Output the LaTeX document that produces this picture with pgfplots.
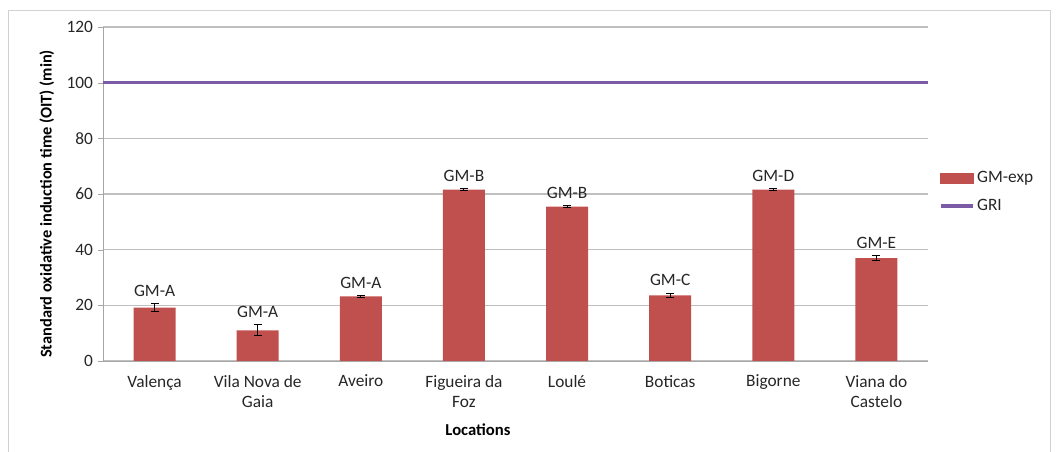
\documentclass[border=0pt]{standalone}
\usepackage{fontspec}
\setmainfont{Carlito}
\usepackage{pgfplots}
\pgfplotsset{compat=1.18}
\usepackage{pgfplotstable}

\definecolor{barred}{HTML}{C0504D}
\definecolor{gripurple}{HTML}{7B5BA6}
\definecolor{gridgray}{HTML}{BFBFBF}
\definecolor{axgray}{HTML}{A6A6A6}
\definecolor{txt}{HTML}{262626}

% OIT per location: value, error, group label
\pgfplotstableread{
x y err lab
0 19.2 1.4 GM-A
1 11.0 2.0 GM-A
2 23.2 0.3 GM-A
3 61.6 0.3 GM-B
4 55.5 0.2 GM-B
5 23.6 0.8 GM-C
6 61.6 0.3 GM-D
7 37.0 0.8 GM-E
}\oit

\pgfplotstableread{
x y
-0.5 100
7.5 100
}\gri

\begin{document}
\begin{tikzpicture}
\path[use as bounding box] (-77.25pt,-68.25pt) rectangle (714.75pt,270.75pt);
\draw[gridgray!70] (-71.25pt,-75pt) -- (-71.25pt,263.25pt) -- (710.25pt,263.25pt) -- (710.25pt,-75pt);
\begin{axis}[
    at={(0,0)}, anchor=south west,
    scale only axis,
    width=618.75pt, height=250.5pt,
    xmin=-0.5, xmax=7.5,
    ymin=0, ymax=120,
    ytick={0,20,...,120},
    xtick={0,...,7},
    xticklabels={Valença, Vila Nova de\\Gaia, Aveiro, Figueira da\\Foz, Loulé, Boticas, Bigorne, Viana do\\Castelo},
    axis lines*=left,
    axis line style={axgray},
    ymajorgrids, grid style={gridgray, line width=0.8pt},
    major tick length=4pt,
    xtick style={draw=none},
    ytick style={axgray},
    tick align=outside,
    /pgf/number format/assume math mode=true,
    tick label style={font=\fontsize{13}{15}\selectfont, text=txt},
    xticklabel style={align=center, yshift=-3pt},
    ylabel={Standard oxidative induction time (OIT) (min)},
    ylabel style={font=\fontsize{12.3}{14}\selectfont\bfseries, at={(axis description cs:-0.068,0.47)}, anchor=center},
    xlabel={Locations},
    xlabel style={font=\fontsize{12.5}{14}\selectfont\bfseries, at={(axis description cs:0.4545,-0.207)}, anchor=center},
    legend style={draw=none, fill=none, at={(axis description cs:1.013,0.506)}, anchor=west,
        font=\fontsize{13}{15}\selectfont, text=txt, row sep=7pt, inner sep=0pt},
    legend cell align=left,
    clip=false,
]
\addplot[ybar, bar width=31.5pt, fill=barred, draw=none, forget plot,
    error bars/.cd, y dir=both, y explicit,
    error bar style={black, line width=0.8pt},
    error mark options={rotate=90, black, mark size=3pt, line width=0.8pt}]
    table[x=x, y=y, y error=err] {\oit};
\addplot[draw=none, forget plot,
    nodes near coords, point meta=explicit symbolic,
    nodes near coords style={font=\fontsize{13}{15}\selectfont, text=txt, anchor=south, yshift=2pt}]
    table[x=x, y expr=\thisrow{y}+\thisrow{err}, meta=lab] {\oit};
\addlegendimage{legend image code/.code={\fill[barred] (0cm,-0.13cm) rectangle (0.85cm,0.13cm);}}
\addlegendentry{GM-exp}
\addplot[gripurple, line width=2.4pt,
    legend image code/.code={\draw[gripurple, line width=2.4pt] (0cm,0cm) -- (0.85cm,0cm);}]
    table[x=x, y=y] {\gri};
\addlegendentry{GRI}
\end{axis}
\end{tikzpicture}
\end{document}
